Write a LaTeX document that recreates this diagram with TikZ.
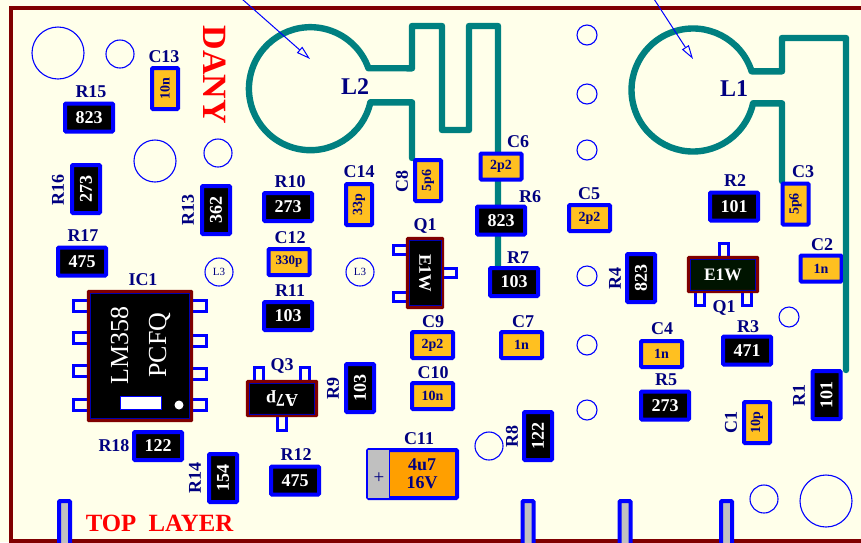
\documentclass[tikz,border=0pt]{standalone}
\usepackage{fontspec}
\setmainfont{Liberation Serif}
\usetikzlibrary{arrows.meta}
\definecolor{bg}{HTML}{FFFFEA}
\definecolor{edgered}{HTML}{800000}
\definecolor{trace}{HTML}{008080}
\definecolor{lab}{HTML}{000080}
\definecolor{capy}{HTML}{FFC020}
\definecolor{capo}{HTML}{FF9F00}
\definecolor{stubg}{HTML}{C0C0C0}
\newcommand\fs[1]{\fontsize{#1}{#1}\selectfont}
\tikzset{
  pcbbox/.style={draw=blue,line width=4pt,rounded corners=1pt,inner sep=0pt,font=\bfseries\fs{18}},
  resbox/.style={pcbbox,fill=black,text=white,minimum width=48pt,minimum height=28pt},
  capbox/.style={pcbbox,fill=capy,text=lab,minimum width=41pt,minimum height=26pt,font=\bfseries\fs{14}},
  lbl/.style={text=lab,inner sep=0pt,font=\bfseries\fs{18}},
  via/.style={draw=blue,line width=1.1pt,circle,inner sep=0pt},
  tracks/.style={draw=trace,line width=6.4pt,line join=round,line cap=round},
  pinbox/.style={draw=blue,line width=3pt,fill=bg},
  stub/.style={draw=blue,line width=4pt,fill=stubg,rounded corners=1pt},
  chip/.style={draw=edgered,line width=3.2pt,fill=black,inner sep=0pt,rounded corners=.5pt},
  chipin/.style={draw=blue!70!black,line width=.8pt},
  pointer/.style={draw=blue,line width=1pt,-{Triangle[open,fill=bg,length=14pt,width=8pt]}},
}
\newcommand\res[5][0]{\node[resbox,rotate=#1] (#2) at (#3,#4) {#5};}
\newcommand\capa[5][0]{\node[capbox,rotate=#1] (#2) at (#3,#4) {#5};}
\newcommand\lb[4][0]{\node[lbl,rotate=#1] at (#2,#3) {#4};}
\newcommand\pcbvia[3]{\node[via,minimum size=#3*2pt] at (#1,#2) {};}
\begin{document}
\begin{tikzpicture}[x=1pt,y=1pt,yscale=-1]
\useasboundingbox (0,0) rectangle (861,542);
\fill[bg] (0,0) rectangle (861,542);
\draw[edgered,line width=4pt,line join=miter] (861,8) -- (11,8) -- (11,541) -- (861,541);

% bottom connector stubs
\foreach \sx in {64.5,528,625,726.5}{
  \draw[stub] (\sx-5.5,542+8) -- (\sx-5.5,501) -- (\sx+5.5,501) -- (\sx+5.5,542+8);
}

% pour circles / vias
\pcbvia{58}{53}{26}\pcbvia{120}{54}{14}\pcbvia{155}{161}{21}\pcbvia{218}{153}{14}
\pcbvia{489}{446}{14}
\pcbvia{587}{35}{10}\pcbvia{587}{94}{10}\pcbvia{587}{150}{10}\pcbvia{587}{276}{10}\pcbvia{587}{345}{10}\pcbvia{587}{410}{10}
\pcbvia{789}{317}{10}\pcbvia{764}{499}{14}\pcbvia{826}{501}{26}
\node[via,minimum size=28pt,text=lab,font=\fs{11}] (L3a) at (219,272) {L3};
\node[via,minimum size=28pt,text=lab,font=\fs{11}] (L3b) at (360,272) {L3};

% traces
\draw[tracks] (412,158) -- (412,102.3) -- (370.4,102.3)
  arc[start angle=12.8,end angle=340.6,radius=61.5pt]
  -- (412,68.3) -- (412,26) -- (442,26) -- (442,130) -- (469,130) -- (469,26) -- (498,26) -- (498,270);
\draw[tracks] (846,370) -- (846,38) -- (782,38) -- (782,71.3) -- (751.6,71.3)
  arc[start angle=-17.7,end angle=-347.5,radius=61.5pt]
  -- (782,103.3) -- (782,181);

% pointers
\coordinate (p2a) at (242,-1); \coordinate (p2b) at (310,59);
\coordinate (p1a) at (654,-1); \coordinate (p1b) at (693,59);
\draw[pointer] (p2a) -- (p2b);
\draw[pointer] (p1a) -- (p1b);
\node[lbl,font=\bfseries\fs{24}] (L2) at (355,87) {L2};
\node[lbl,font=\bfseries\fs{24}] (L1) at (734,89) {L1};

% headings
\node[text=red,inner sep=0pt,rotate=-90,font=\bfseries\fs{34}] (dany) at (214.5,75) {DANY};
\node[text=red,inner sep=0pt,font=\bfseries\fs{24.8}] (top) at (159.5,523) {TOP\hspace{.25em} LAYER};

% resistors
\res{R15}{89}{117.5}{823}\lb{91}{92}{R15}
\res[90]{R16}{86}{189}{273}\lb[90]{58}{190}{R16}
\res[90]{R13}{216}{210}{362}\lb[90]{188}{210}{R13}
\res{R17}{82}{261.5}{475}\lb{83}{236}{R17}
\res{R10}{288}{207}{273}\lb{290}{182}{R10}
\res{R11}{288}{316}{103}\lb{290}{291}{R11}
\res{R18}{158}{446}{122}\lb{114}{446}{R18}
\res[90]{R14}{223}{478}{154}\lb[90]{195}{478}{R14}
\res{R12}{295}{480.5}{475}\lb{296}{455}{R12}
\res[90]{R9}{360}{388}{103}\lb[90]{333}{388}{R9}
\res{R6}{501}{220.5}{823}\lb{530}{197}{R6}
\res{R7}{514}{282}{103}\lb{518}{258}{R7}
\res[90]{R8}{538}{436}{122}\lb[90]{512}{436}{R8}
\res{R2}{734}{206.5}{101}\lb{735}{181}{R2}
\res[90]{R4}{641}{278}{823}\lb[90]{615}{278}{R4}
\res{R3}{747}{350.5}{471}\lb{748}{327}{R3}
\res{R5}{665}{405.5}{273}\lb{666}{380}{R5}
\res[90]{R1}{826.5}{395}{101}\lb[90]{799}{395}{R1}

% capacitors
\capa[90]{C13}{165}{88.5}{10n}\lb{164}{57}{C13}
\capa{C12}{289}{262}{\fs{13}330p}\lb{290}{238}{C12}
\capa[90]{C14}{359}{204.5}{33p}\lb{359}{172}{C14}
\capa[90]{C8}{428}{180.5}{5p6}\lb[90]{402}{181}{C8}
\capa{C6}{501}{166.5}{2p2}\lb{518}{142}{C6}
\capa{C5}{589.5}{218}{2p2}\lb{589}{194}{C5}
\capa{C9}{432.5}{345}{2p2}\lb{433}{322}{C9}
\capa{C7}{521.5}{345}{1n}\lb{523}{322}{C7}
\capa{C10}{432.5}{396}{10n}\lb{433}{373}{C10}
\capa[90]{C3}{795.5}{204}{5p6}\lb{803}{172}{C3}
\capa{C2}{821}{268.5}{1n}\lb{822}{245}{C2}
\capa{C4}{661.5}{354}{1n}\lb{662}{329}{C4}
\capa[90]{C1}{757}{422.5}{10p}\lb[90]{731}{422}{C1}
\draw[tracks,line cap=butt] (846,245) -- (846,295);

% C11
\node[pcbbox,fill=capo,minimum width=89pt,minimum height=48pt] (C11) at (412.5,474) {};
\draw[draw=none,fill=stubg] (368,450) rectangle (389,498);
\draw[blue,line width=1pt] (389,450) -- (389,498);
\node[text=lab,inner sep=0pt,font=\fs{19}] (plus) at (379,478) {+};
\node[lbl] (C11a) at (422,465) {4u7};
\node[lbl] (C11b) at (422,483) {16V};
\lb{419}{439}{C11}

% IC1
\foreach \py in {306,338,371,405}{\draw[pinbox] (87,\py-5.5) -- (73.5,\py-5.5) -- (73.5,\py+5.5) -- (87,\py+5.5);}
\foreach \py in {306,341,373.5,405}{\draw[pinbox] (193,\py-5.5) -- (206.5,\py-5.5) -- (206.5,\py+5.5) -- (193,\py+5.5);}
\node[chip,minimum width=103pt,minimum height=129pt] (IC1) at (140,356) {};
\draw[chipin] (90.5,293.5) rectangle (189.5,418.5);
\node[text=white,inner sep=0pt,rotate=90,font=\fs{26}] (icA) at (119.5,345) {LM358};
\node[text=white,inner sep=0pt,rotate=90,font=\fs{26}] (icB) at (159.5,345) {PCFQ};
\node[draw=blue,line width=.8pt,fill=white,minimum width=41pt,minimum height=13.5pt,inner sep=0pt] (icbar) at (140.5,403) {};
\node[circle,fill=white,minimum size=9pt,inner sep=0pt] (icdot) at (179,405) {};
\lb{143}{280}{IC1}

% Q3
\draw[pinbox] (254.5,380) -- (254.5,367.5) -- (263,367.5) -- (263,380);
\draw[pinbox] (300.5,380) -- (300.5,367.5) -- (309.5,367.5) -- (309.5,380);
\draw[pinbox] (277.5,417) -- (277.5,430) -- (286.5,430) -- (286.5,417);
\node[chip,minimum width=69pt,minimum height=34pt] (Q3) at (282,398.5) {};
\draw[chipin] (249.5,383) rectangle (314.5,414);
\node[text=white,inner sep=0pt,font=\bfseries\fs{18}] (Q3t) at (282,398.5) {\rotatebox{180}{A7p}};
\lb{282}{366}{Q3}

% Q1 vertical
\draw[pinbox] (406,245.5) -- (393.5,245.5) -- (393.5,254.5) -- (406,254.5);
\draw[pinbox] (406,292.5) -- (393.5,292.5) -- (393.5,301.5) -- (406,301.5);
\draw[pinbox] (444,268.5) -- (456.5,268.5) -- (456.5,277.5) -- (444,277.5);
\node[chip,minimum width=35pt,minimum height=69pt] (Q1v) at (425,273) {};
\draw[chipin] (409,240.5) rectangle (441,305.5);
\node[text=white,inner sep=0pt,rotate=-90,font=\bfseries\fs{17.5}] at (425,273) {E1W};
\lb{425}{226}{Q1}

% Q1 horizontal
\draw[pinbox] (719.5,256) -- (719.5,243.5) -- (728,243.5) -- (728,256);
\draw[pinbox] (695.5,293) -- (695.5,305.5) -- (704.5,305.5) -- (704.5,293);
\draw[pinbox] (742.5,293) -- (742.5,305.5) -- (751.5,305.5) -- (751.5,293);
\node[chip,fill=black!92!green,minimum width=69pt,minimum height=34pt] (Q1h) at (723,274.5) {};
\draw[chipin] (690.5,259.5) rectangle (755.5,290);
\node[text=white,inner sep=0pt,font=\bfseries\fs{17.5}] at (723,274.5) {E1W};
\lb{724}{308}{Q1}
\end{tikzpicture}
\end{document}
